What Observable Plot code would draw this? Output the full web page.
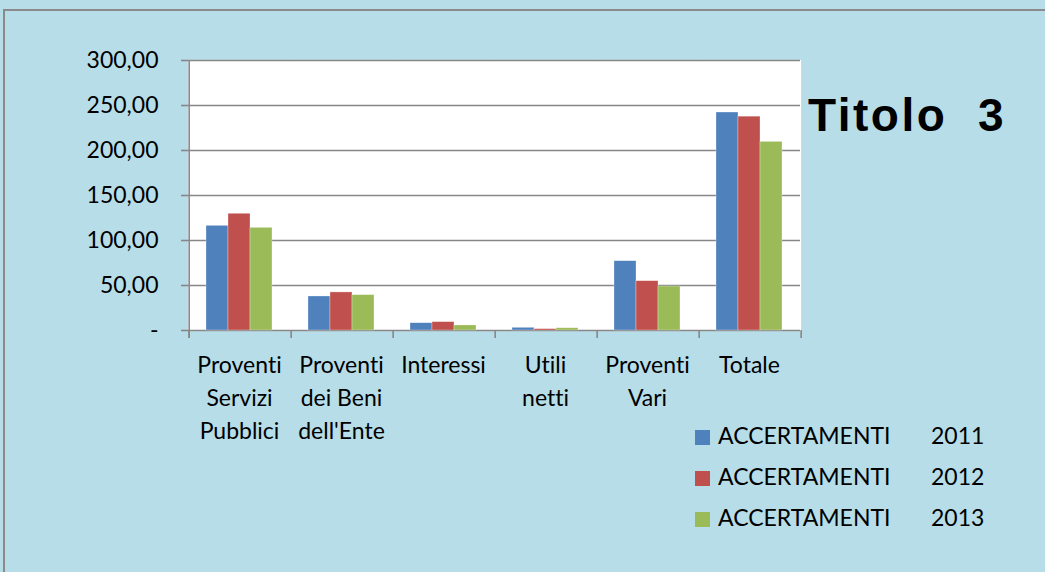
<!DOCTYPE html>
<html>
<head>
<meta charset="utf-8">
<script src="https://cdn.jsdelivr.net/npm/d3@7"></script>
<script src="https://cdn.jsdelivr.net/npm/@observablehq/plot@0.6"></script>
<style>
  html, body { margin: 0; padding: 0; background: #B7DDE8; }
  #wrap { position: relative; width: 1045px; height: 572px; background: #B7DDE8; overflow: hidden; font-family: Lato, sans-serif; font-variant-ligatures: none; }
  #border { position: absolute; left: 3px; top: 9px; width: 1100px; height: 600px; border-top: 2px solid #8a8a8a; border-left: 2px solid #8a8a8a; }
  #chart { position: absolute; left: 0; top: 0; }
  #chart svg text { font-variant-ligatures: none; }
  #title { position: absolute; left: 808px; top: 92px; font-family: "Liberation Sans", Arial, sans-serif; font-weight: bold; font-size: 46px; letter-spacing: 2.5px; white-space: pre; color: #000; line-height: 1; }
  .lg { position: absolute; left: 695px; height: 20px; font-size: 23px; color: #000; white-space: pre; }
  .lg .sw { position: absolute; left: 0; top: 3px; width: 15px; height: 15px; }
  .lg .nm { position: absolute; left: 23px; top: -6px; }
  .lg .yr { position: absolute; left: 236px; top: -6px; }
</style>
</head>
<body>
<div id="wrap">
  <div id="border"></div>
  <div id="chart"></div>
  <div id="title">Titolo  3</div>
  <div id="legend"></div>
</div>
<script>
const categories = ["Proventi Servizi Pubblici", "Proventi dei Beni dell'Ente", "Interessi", "Utili netti", "Proventi Vari", "Totale"];
const categoryLabels = ["Proventi\nServizi\nPubblici", "Proventi\ndei Beni\ndell'Ente", "Interessi", "Utili\nnetti", "Proventi\nVari", "Totale"];
const years = ["2011", "2012", "2013"];
const seriesNames = ["ACCERTAMENTI", "ACCERTAMENTI", "ACCERTAMENTI"];
const values2011 = [116.3, 37.8, 8.1, 3.0, 77.0, 242.2];
const values2012 = [129.7, 42.3, 9.3, 1.5, 54.8, 237.6];
const values2013 = [114.1, 39.3, 5.6, 2.5, 48.9, 209.6];
const yTicks = [0, 50, 100, 150, 200, 250, 300];
const colors = ["#4F81BD", "#C0504D", "#9BBB59"];

const seriesValues = [values2011, values2012, values2013];
const data = [];
categories.forEach((c, i) => years.forEach((y, j) => data.push({cat: c, year: y, value: seriesValues[j][i]})));

const W = 1045, mL = 188, mR = 245;
const plotW = W - mL - mR;
const facetW = plotW / categories.length;
const step = facetW / (years.length + 1.5);
const edgeDx = -(0.75 * step + step / 2);
const lastDx = facetW + edgeDx;

const fmt = v => v === 0 ? "-" : d3.format(",.2f")(v).replace(".", "#").replace(/,/g, ".").replace("#", ",");

const chart = Plot.plot({
  width: W,
  height: 470,
  marginLeft: mL,
  marginRight: mR,
  marginTop: 60,
  marginBottom: 140,
  style: {background: "transparent", fontFamily: "Lato, sans-serif", fontSize: "23px", color: "#000", overflow: "visible"},
  fx: {domain: categories, padding: 0, axis: null},
  x: {domain: years, paddingInner: 0, paddingOuter: 0.75, align: 0.5, axis: null},
  y: {domain: [0, 300], axis: null, label: null},
  color: {domain: years, range: colors},
  marks: [
    Plot.frame({fill: "white", stroke: "white", strokeWidth: 1.2}),
    Plot.gridY(yTicks, {stroke: "#878787", strokeOpacity: 1, strokeWidth: 1.6}),
    Plot.barY(data, {fx: "cat", x: "year", y: "value", fill: "year", stroke: "white", strokeOpacity: 0.5, strokeWidth: 0.6}),
    Plot.axisY({ticks: yTicks, tickFormat: fmt, label: null, tickSize: 7, tickPadding: 23, stroke: "#878787", strokeWidth: 1.6, fill: "#000", fontSize: 23}),
    Plot.ruleX(categories, {fx: d => d, x: () => years[0], y1: 0, y2: -9, dx: edgeDx, stroke: "#878787", strokeWidth: 1.6}),
    Plot.ruleX([categories[categories.length - 1]], {fx: d => d, x: () => years[0], y1: 0, y2: -9, dx: lastDx, stroke: "#878787", strokeWidth: 1.6}),
    Plot.ruleX([categories[0]], {fx: d => d, x: () => years[0], y1: 300, y2: -9, dx: edgeDx, stroke: "#878787", strokeWidth: 1.6}),
    Plot.text(categories, {fx: d => d, text: (d, i) => categoryLabels[i], frameAnchor: "bottom", lineAnchor: "top", dy: 19, fontSize: 23, lineHeight: 1.43, fill: "#000"})
  ]
});
document.getElementById("chart").appendChild(chart);

const legend = document.getElementById("legend");
const rowTops = [427, 468, 509];
years.forEach((y, i) => {
  const row = document.createElement("div");
  row.className = "lg";
  row.style.top = rowTops[i] + "px";
  row.innerHTML = `<span class="sw" style="background:${colors[i]}"></span><span class="nm">${seriesNames[i]}</span><span class="yr">${y}</span>`;
  legend.appendChild(row);
});
</script>
</body>
</html>
